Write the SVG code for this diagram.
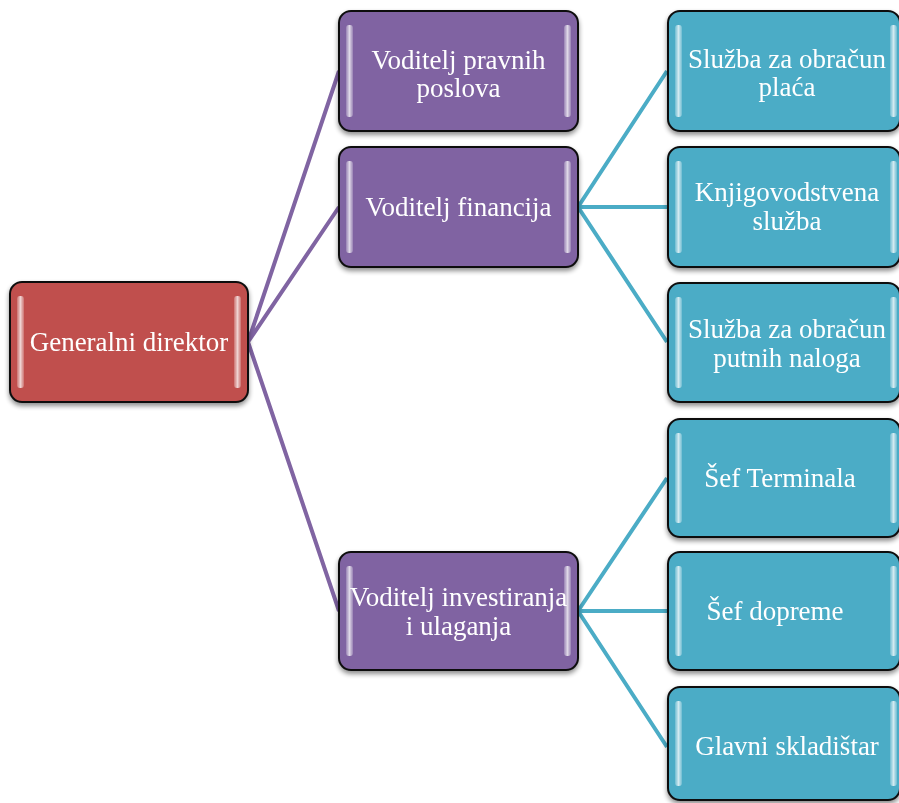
<svg xmlns="http://www.w3.org/2000/svg" width="899" height="803" viewBox="0 0 899 803">
<defs>
<filter id="sh" x="-10%" y="-10%" width="120%" height="130%">
<feGaussianBlur in="SourceAlpha" stdDeviation="2.5"/>
<feOffset dx="0" dy="3" result="b"/>
<feComponentTransfer><feFuncA type="linear" slope="0.45"/></feComponentTransfer>
<feMerge><feMergeNode/><feMergeNode in="SourceGraphic"/></feMerge>
</filter>
<linearGradient id="gl" x1="0" y1="0" x2="1" y2="0">
<stop offset="0" stop-color="#fff" stop-opacity="0.2"/>
<stop offset="0.5" stop-color="#fff" stop-opacity="0.75"/>
<stop offset="1" stop-color="#fff" stop-opacity="0.2"/>
</linearGradient>
</defs>
<style>
.box{stroke:#111;stroke-width:2}
.red{fill:#C0504D}
.pur{fill:#8064A2}
.teal{fill:#4BACC6}
.hl{fill:url(#gl)}
.t{font-family:"Liberation Serif","Times New Roman",serif;font-size:27px;fill:#fff;text-anchor:middle}
.cp{stroke:#8064A2;stroke-width:4;fill:none}
.ct{stroke:#4BACC6;stroke-width:4;fill:none}
</style>
<g id="connectors">
<path class="cp" d="M248 342 L339 71 M248 342 L339 207 M248 342 L339 611"/>
<path class="ct" d="M578 207 L667 71 M578 207 L667 207 M578 207 L667 342 M578 611 L667 478 M578 611 L667 611 M578 611 L667 747"/>
</g>
<g id="n-generalni" filter="url(#sh)">
<rect class="box red" x="10" y="282" width="238" height="120" rx="12"/>
<rect class="hl" x="17" y="296" width="7" height="92" rx="3"/>
<rect class="hl" x="234" y="296" width="7" height="92" rx="3"/>
<text class="t" x="129" y="351">Generalni direktor</text>
</g>
<g id="n-pravni" filter="url(#sh)">
<rect class="box pur" x="339" y="11" width="239" height="120" rx="12"/>
<rect class="hl" x="346" y="25" width="7" height="92" rx="3"/>
<rect class="hl" x="564" y="25" width="7" height="92" rx="3"/>
<text class="t" x="458.5" y="69">Voditelj pravnih</text>
<text class="t" x="458.5" y="97">poslova</text>
</g>
<g id="n-financija" filter="url(#sh)">
<rect class="box pur" x="339" y="147" width="239" height="120" rx="12"/>
<rect class="hl" x="346" y="161" width="7" height="92" rx="3"/>
<rect class="hl" x="564" y="161" width="7" height="92" rx="3"/>
<text class="t" x="458.5" y="216">Voditelj financija</text>
</g>
<g id="n-investiranja" filter="url(#sh)">
<rect class="box pur" x="339" y="552" width="239" height="118" rx="12"/>
<rect class="hl" x="346" y="566" width="7" height="90" rx="3"/>
<rect class="hl" x="564" y="566" width="7" height="90" rx="3"/>
<text class="t" x="458.5" y="606">Voditelj investiranja</text>
<text class="t" x="458.5" y="635">i ulaganja</text>
</g>
<g id="n-place" filter="url(#sh)">
<rect class="box teal" x="668" y="11" width="232" height="120" rx="12"/>
<rect class="hl" x="675" y="25" width="7" height="92" rx="3"/>
<rect class="hl" x="890" y="25" width="7" height="92" rx="3"/>
<text class="t" x="787" y="68">Služba za obračun</text>
<text class="t" x="787" y="96">plaća</text>
</g>
<g id="n-knjigovodstvena" filter="url(#sh)">
<rect class="box teal" x="668" y="147" width="232" height="120" rx="12"/>
<rect class="hl" x="675" y="161" width="7" height="92" rx="3"/>
<rect class="hl" x="890" y="161" width="7" height="92" rx="3"/>
<text class="t" x="787" y="201">Knjigovodstvena</text>
<text class="t" x="787" y="230">služba</text>
</g>
<g id="n-putni" filter="url(#sh)">
<rect class="box teal" x="668" y="283" width="232" height="119" rx="12"/>
<rect class="hl" x="675" y="297" width="7" height="91" rx="3"/>
<rect class="hl" x="890" y="297" width="7" height="91" rx="3"/>
<text class="t" x="787" y="338">Služba za obračun</text>
<text class="t" x="787" y="367">putnih naloga</text>
</g>
<g id="n-terminal" filter="url(#sh)">
<rect class="box teal" x="668" y="419" width="232" height="118" rx="12"/>
<rect class="hl" x="675" y="433" width="7" height="90" rx="3"/>
<rect class="hl" x="890" y="433" width="7" height="90" rx="3"/>
<text class="t" x="780" y="487">Šef Terminala</text>
</g>
<g id="n-doprema" filter="url(#sh)">
<rect class="box teal" x="668" y="552" width="232" height="118" rx="12"/>
<rect class="hl" x="675" y="566" width="7" height="90" rx="3"/>
<rect class="hl" x="890" y="566" width="7" height="90" rx="3"/>
<text class="t" x="775" y="620">Šef dopreme</text>
</g>
<g id="n-skladistar" filter="url(#sh)">
<rect class="box teal" x="668" y="687" width="232" height="113" rx="12"/>
<rect class="hl" x="675" y="701" width="7" height="85" rx="3"/>
<rect class="hl" x="890" y="701" width="7" height="85" rx="3"/>
<text class="t" x="787" y="755">Glavni skladištar</text>
</g>
</svg>
